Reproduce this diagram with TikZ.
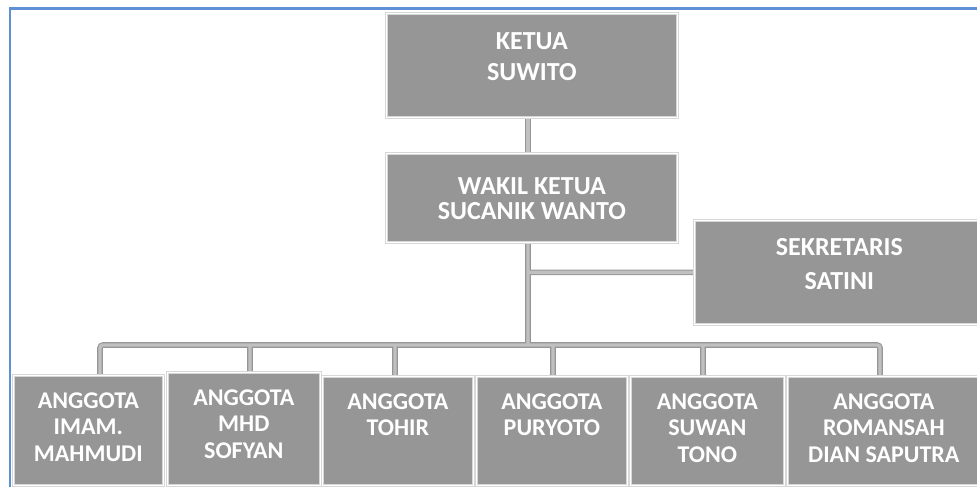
\documentclass[tikz,border=0pt]{standalone}
\usepackage{fontspec}
\setmainfont{Carlito}
\usetikzlibrary{backgrounds}
\definecolor{boxgray}{RGB}{150,150,150}
\definecolor{boxedge}{RGB}{215,215,215}
\definecolor{linkedge}{RGB}{150,150,150}
\definecolor{linkfill}{RGB}{192,192,192}
\definecolor{pageblue}{RGB}{95,143,212}
% text block of a box: width, height, top gap, lines
\newcommand{\boxtext}[4]{\parbox[c][#2][t]{#1}{\centering\vspace*{#3}#4}}
\begin{document}
\begin{tikzpicture}[x=1pt,y=-1pt,
    orgbox/.style={draw=boxedge, double=white, double distance=1.6pt, line width=0.7pt,
      fill=boxgray, inner sep=0pt, text=white, anchor=north west},
    upper/.style={orgbox, font=\bfseries\fontsize{26}{28}\selectfont},
    lower/.style={orgbox, font=\bfseries\fontsize{24}{26.5}\selectfont},
    link/.style={draw=linkedge, double=linkfill, line width=1.1pt, double distance=3.4pt},
    pageline/.style={draw=pageblue, line width=2.4pt}]
  \clip (0,0) rectangle (977,487);
  \draw[pageline] (10,487) |- (977,8.5);

  \node[upper] (ketua) at (386,13) {\boxtext{291pt}{104pt}{19pt}{KETUA\\[3pt]SUWITO}};
  \node[upper] (wakil) at (386,153) {\boxtext{291pt}{89pt}{24pt}{WAKIL KETUA\\[-3pt]SUCANIK WANTO}};
  \node[upper] (sek) at (694,220) {\boxtext{290pt}{104pt}{18pt}{SEKRETARIS\\[6pt]SATINI}};

  \coordinate (bus) at (528,345);
  \foreach \i/\x/\y/\w/\h/\d/\t in {
      1/13/375/150/110/100/{ANGGOTA\\IMAM.\\MAHMUDI},
      2/167/372/153/113/250/{ANGGOTA\\MHD\\SOFYAN},
      3/322/376/151/109/395/{ANGGOTA\\TOHIR},
      4/476/376/151/109/553/{ANGGOTA\\PURYOTO},
      5/630/376/154/109/703/{ANGGOTA\\SUWAN\\TONO},
      6/787/376/193/109/880/{ANGGOTA\\ROMANSAH\\DIAN SAPUTRA}}{
    \node[lower] (a\i) at (\x,\y) {\boxtext{\w pt}{\h pt}{17pt}{\t}};
    \coordinate (d\i) at (\d,345);
  }

  \begin{scope}[on background layer]
    \draw[link] (ketua.south -| bus) -- (wakil.north -| bus);
    \draw[link, rounded corners=3] (wakil.south -| bus) -- (bus)
      (bus |- sek.west) -- (sek.west)
      (a1.north -| d1) -- (d1) -- (d6) -- (a6.north -| d6)
      foreach \i in {2,...,5}{ (d\i) -- (a\i.north -| d\i) };
  \end{scope}
\end{tikzpicture}
\end{document}
